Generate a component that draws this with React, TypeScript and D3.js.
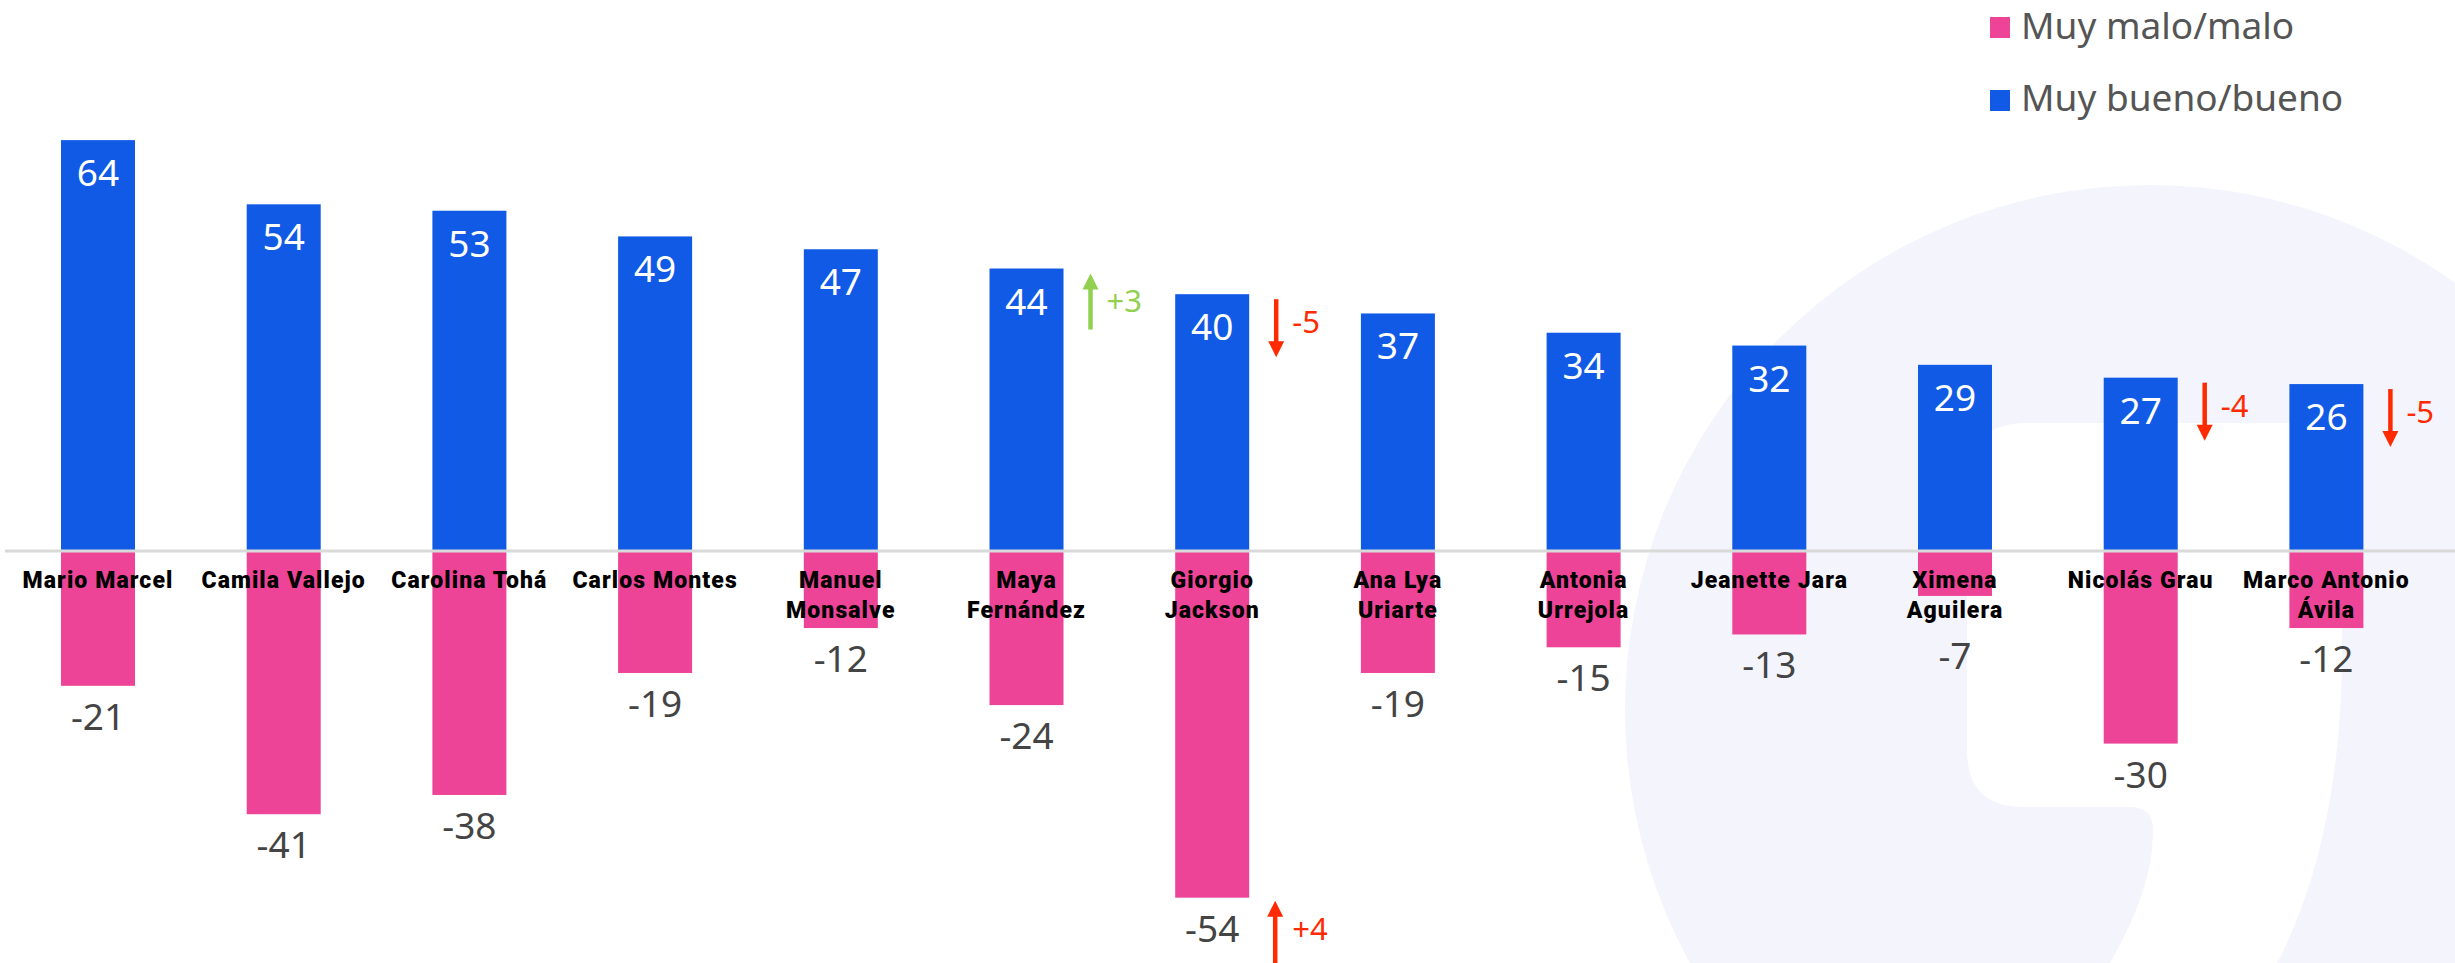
import React from "react";
import * as d3 from "d3";

const categories: string[][] = [
  ["Mario Marcel"],
  ["Camila Vallejo"],
  ["Carolina Tohá"],
  ["Carlos Montes"],
  ["Manuel", "Monsalve"],
  ["Maya", "Fernández"],
  ["Giorgio", "Jackson"],
  ["Ana Lya", "Uriarte"],
  ["Antonia", "Urrejola"],
  ["Jeanette Jara"],
  ["Ximena", "Aguilera"],
  ["Nicolás Grau"],
  ["Marco Antonio", "Ávila"],
];
const positive = [64, 54, 53, 49, 47, 44, 40, 37, 34, 32, 29, 27, 26];
const negative = [-21, -41, -38, -19, -12, -24, -54, -19, -15, -13, -7, -30, -12];
const changePositive: (number | null)[] = [null, null, null, null, null, 3, -5, null, null, null, null, -4, -5];
const changeNegative: (number | null)[] = [null, null, null, null, null, null, 4, null, null, null, null, null, null];
const legendLabels = ["Muy malo/malo", "Muy bueno/bueno"];

const W = 2455;
const H = 963;
const BLUE = "#105AE6";
const PINK = "#EE4497";
const GREEN = "#92D050";
const RED = "#FF2A00";
const FONT = "'Noto Sans', Inter, sans-serif";
const LABEL_FONT = "Roboto, 'Noto Sans', sans-serif";

function Arrow({ x, yTail, yTip, color }: { x: number; yTail: number; yTip: number; color: string }) {
  const dir = yTip < yTail ? -1 : 1;
  const head = 16;
  const hw = 8;
  return (
    <g>
      <line x1={x} x2={x} y1={yTail} y2={yTip - dir * head * 0.8} stroke={color} strokeWidth={4.5} />
      <path d={`M${x - hw},${yTip - dir * head} L${x + hw},${yTip - dir * head} L${x},${yTip} Z`} fill={color} />
    </g>
  );
}

export default function App() {
  const n = categories.length;
  const step = 185.7;
  const x = d3
    .scaleBand<number>()
    .domain(d3.range(n))
    .range([0, step * (n - 0.6015 + 2 * 0.3285)])
    .paddingInner(0.6015)
    .paddingOuter(0.3285);
  const bw = x.bandwidth();
  const base = 551;
  const k = 6.42;
  const y = d3.scaleLinear().domain([-60, 70]).range([base + 60 * k, base - 70 * k]);

  return (
    <div style={{ position: "fixed", left: 0, top: 0, width: W, height: H, background: "#fff" }}>
      <svg width={W} height={H} style={{ display: "block" }}>
        {/* background logo */}
        <circle cx={2150} cy={710} r={525} fill="#F4F5FC" />
        <path
          d="M2027,423 L2332,423 Q2342,423 2342,433 L2342,650 C2342,800 2310,900 2277,963 L2110,963 C2140,910 2153,870 2153,830 Q2153,807 2130,807 L2024,807 Q1967,807 1967,750 L1967,483 Q1967,423 2027,423 Z"
          fill="#FFFFFF"
        />

        {/* legend */}
        <rect x={1990} y={17} width={20} height={21} fill={PINK} />
        <text x={2021} y={39} fontFamily={FONT} fontSize={37} fill="#555">
          {legendLabels[0]}
        </text>
        <rect x={1990} y={90} width={20} height={21} fill={BLUE} />
        <text x={2021} y={111} fontFamily={FONT} fontSize={37} fill="#555">
          {legendLabels[1]}
        </text>

        {/* bars */}
        {positive.map((v, i) => (
          <rect key={"p" + i} x={x(i)} y={y(v)} width={bw} height={y(0) - y(v)} fill={BLUE} />
        ))}
        {negative.map((v, i) => (
          <rect key={"n" + i} x={x(i)} y={y(0)} width={bw} height={y(v) - y(0)} fill={PINK} />
        ))}

        {/* baseline */}
        <line x1={5} x2={W} y1={base} y2={base} stroke="#D9D9D9" strokeWidth={3} />

        {/* positive labels */}
        {positive.map((v, i) => (
          <text
            key={"pl" + i}
            x={(x(i) as number) + bw / 2}
            y={y(v) + 46}
            textAnchor="middle"
            fontFamily={FONT}
            fontSize={37}
            fill="#fff"
          >
            {v}
          </text>
        ))}

        {/* category labels */}
        {categories.map((lines, i) => (
          <text
            key={"c" + i}
            x={(x(i) as number) + bw / 2}
            textAnchor="middle"
            fontFamily={LABEL_FONT}
            fontWeight={900}
            fontSize={23}
            letterSpacing={1.1}
            fill="#000"
          >
            {lines.map((l, j) => (
              <tspan key={j} x={(x(i) as number) + bw / 2} y={588 + j * 30}>
                {l}
              </tspan>
            ))}
          </text>
        ))}

        {/* negative labels */}
        {negative.map((v, i) => {
          const labelBottom = 588 + (categories[i].length - 1) * 30 + 7;
          const yy = Math.max(y(v), categories[i].length > 1 ? labelBottom : 0) + 44;
          return (
            <text
              key={"nl" + i}
              x={(x(i) as number) + bw / 2}
              y={yy}
              textAnchor="middle"
              fontFamily={FONT}
              fontSize={37}
              fill="#444"
            >
              {"-" + Math.abs(v)}
            </text>
          );
        })}

        {/* change arrows, positive series */}
        {changePositive.map((c, i) => {
          if (c === null) return null;
          const ax = (x(i) as number) + bw + 27;
          const top = y(positive[i]) + 5;
          const color = c > 0 ? GREEN : RED;
          const up = c > 0;
          return (
            <g key={"cp" + i}>
              <Arrow x={ax} yTail={up ? top + 56 : top} yTip={up ? top : top + 58} color={color} />
              <text x={ax + 16} y={top + (up ? 38 : 34)} fontFamily={FONT} fontSize={31} fill={color}>
                {(c > 0 ? "+" : "-") + Math.abs(c)}
              </text>
            </g>
          );
        })}

        {/* change arrows, negative series */}
        {changeNegative.map((c, i) => {
          if (c === null) return null;
          const ax = (x(i) as number) + bw + 26;
          const tip = y(negative[i]) + 3;
          const color = c > 0 ? RED : GREEN;
          return (
            <g key={"cn" + i}>
              <Arrow x={ax} yTail={H + 5} yTip={tip} color={color} />
              <text x={ax + 17} y={tip + 39} fontFamily={FONT} fontSize={31} fill={color}>
                {(c > 0 ? "+" : "-") + Math.abs(c)}
              </text>
            </g>
          );
        })}
      </svg>
    </div>
  );
}
